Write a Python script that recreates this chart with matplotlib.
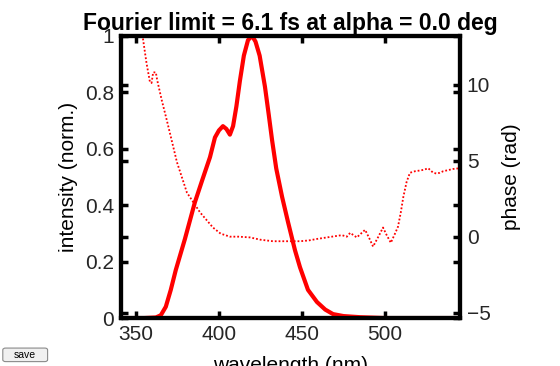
import matplotlib
matplotlib.use("Agg")
import matplotlib.pyplot as plt
from matplotlib.patches import FancyBboxPatch
import numpy as np

plt.rcParams['font.family'] = ['Liberation Sans', 'DejaVu Sans']

# intensity (normalized) vs wavelength
wl_int = [341, 355, 362, 365, 368, 371, 374, 376.5, 379.5, 385.5, 390, 394.6, 397.6, 400,
          402.4, 404.5, 406.6, 408.5, 410.5, 412.6, 415, 417.5, 419.9, 422, 424.5, 427.7,
          430, 432, 434.5, 438, 441.6, 445.8, 448.8, 453.6, 459, 464, 468.7, 475, 485, 500, 545]
intensity = [0, 0, 0.002, 0.01, 0.04, 0.10, 0.17, 0.22, 0.28, 0.41, 0.49, 0.57, 0.64, 0.665,
             0.68, 0.67, 0.65, 0.68, 0.75, 0.84, 0.93, 0.985, 1.0, 0.98, 0.93, 0.82,
             0.72, 0.63, 0.53, 0.43, 0.34, 0.24, 0.18, 0.10, 0.057, 0.03, 0.014, 0.007, 0.003, 0, 0]

# spectral phase (rad) vs wavelength
wl_ph = [352, 354, 356.4, 358.4, 359.4, 360.4, 362, 362.8, 365.5, 368.5, 372.5, 374.7, 380.7,
         388.6, 396.4, 401, 406.6, 412, 418.7, 425, 432.5, 440, 448.8, 454, 459, 465, 471, 474,
         477, 479, 481, 483, 485.5, 488, 490.5, 492.8, 496, 498.8, 501, 503.5, 506, 507.8,
         509.5, 511, 513, 515, 518, 521, 523.5, 526, 529, 531, 533, 535, 537, 541, 545]
phase = [14.5, 13.2, 11.4, 10.2, 10.1, 10.8, 10.8, 10.3, 9.0, 7.7, 5.9, 4.9, 2.9,
         1.6, 0.6, 0.2, 0.0, 0.0, -0.05, -0.2, -0.3, -0.3, -0.3, -0.25, -0.15, -0.05, 0.05, 0.1,
         0.0, 0.25, 0.1, -0.05, 0.2, 0.45, -0.1, -0.65, 0.0, 0.6, 0.1, -0.4, 0.2, 0.65,
         1.6, 2.6, 3.6, 4.2, 4.3, 4.35, 4.4, 4.5, 4.2, 4.15, 4.2, 4.3, 4.35, 4.45, 4.5]

xticks = [350, 400, 450, 500]
yticks_left = [0, 0.2, 0.4, 0.6, 0.8, 1]
yticklabels_left = ['0', '0.2', '0.4', '0.6', '0.8', '1']
yticks_right = [-5, 0, 5, 10]

title = 'Fourier limit = 6.1 fs at alpha = 0.0 deg'

fig = plt.figure(figsize=(5.6, 3.66), dpi=100)
ax1 = fig.add_axes([0.216, 0.131, 0.605, 0.771])
ax2 = ax1.twinx()

red = '#ff0000'
ax1.plot(wl_int, intensity, color=red, lw=3.0, solid_joinstyle='round', zorder=3)
ax2.plot(wl_ph, phase, color=red, lw=1.3, linestyle=(0, (1, 1.1)))

ax1.set_xlim(341, 545)
ax1.set_ylim(0, 1)
ax2.set_ylim(-5.35, 13.2)

fs = 15
ax1.set_xticks(xticks)
ax1.set_yticks(yticks_left)
ax1.set_yticklabels(yticklabels_left)
ax2.set_yticks(yticks_right)

for ax in (ax1, ax2):
    for s in ax.spines.values():
        s.set_linewidth(3)
        s.set_color('black')

ax1.tick_params(axis='both', direction='in', length=5, width=2.5, labelsize=fs,
                top=True, right=True, labelcolor='#262626', pad=5)
ax2.tick_params(axis='y', direction='in', length=5, width=2.5, labelsize=fs,
                left=True, labelcolor='#262626', pad=5)

ax1.set_ylabel('intensity (norm.)', fontsize=fs, labelpad=5)
ax2.set_ylabel('phase (rad)', fontsize=fs, labelpad=8)
ax1.set_xlabel('wavelength (nm)', fontsize=fs, labelpad=9)
ax1.set_title(title, fontsize=16.5, fontweight='bold', pad=4)

btn = FancyBboxPatch((0.005, 0.012), 0.080, 0.037, transform=fig.transFigure,
                     boxstyle='round,pad=0,rounding_size=0.005', fc='#f0f0f0', ec='#8a8a8a', lw=0.8)
fig.add_artist(btn)
fig.text(0.045, 0.030, 'save', fontsize=7.5, ha='center', va='center')

fig.savefig('out.png', dpi=100)
